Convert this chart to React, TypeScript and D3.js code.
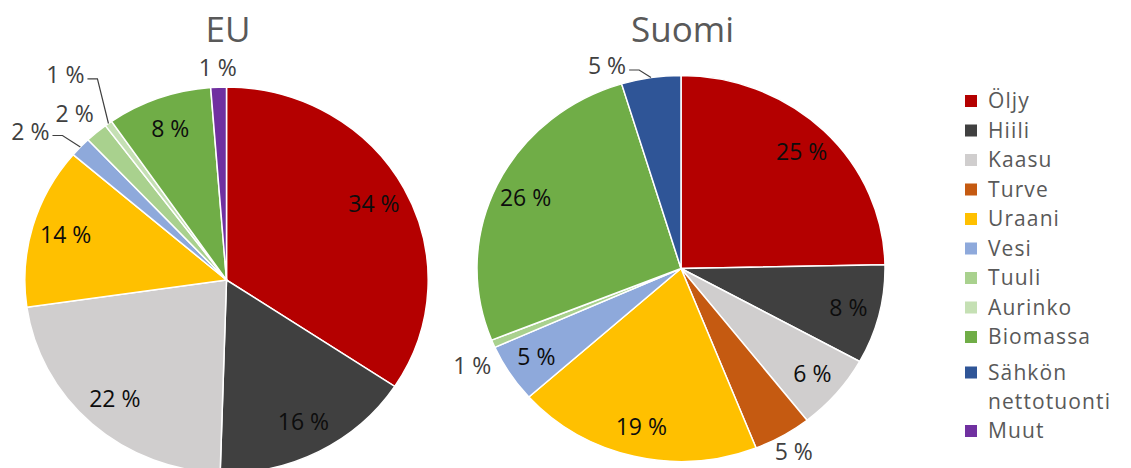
import React, { useEffect, useRef } from 'react';
import * as d3 from 'd3';

const categories = ['Öljy', 'Hiili', 'Kaasu', 'Turve', 'Uraani', 'Vesi', 'Tuuli', 'Aurinko', 'Biomassa', 'Sähkön nettotuonti', 'Muut'];
const colors = ['#B40000', '#404040', '#D0CECE', '#C55A11', '#FFC000', '#8EA9DB', '#A9D18E', '#C5E0B4', '#70AD47', '#2F5597', '#7030A0'];
const euValues = [34.3, 16.2, 22.25, 0, 13.5, 1.7, 1.8, 0.6, 8.4, 0, 1.25];
const suomiValues = [24.7, 8.3, 6.4, 4.6, 19.4, 4.9, 0.65, 0, 26.35, 4.7, 0];
const titles = ['EU', 'Suomi'];

type Outside = { r: number; da: number; leader: boolean };

const charts = [
  {
    title: titles[0], values: euValues, cx: 226.5, cy: 280, ry: 193, sx: 1.045, inner: 0.83,
    outside: { 5: { r: 1.24, da: -5.2, leader: true }, 6: { r: 1.145, da: -1, leader: false }, 7: { r: 1.33, da: -1.1, leader: true }, 10: { r: 1.1, da: 0, leader: false } } as Record<number, Outside>,
  },
  {
    title: titles[1], values: suomiValues, cx: 681, cy: 268.5, ry: 193, sx: 1.057, inner: 0.845,
    outside: { 3: { r: 1.1, da: -0.3, leader: false }, 6: { r: 1.14, da: -3.2, leader: false }, 9: { r: 1.11, da: -10.6, leader: true } } as Record<number, Outside>,
  },
];

export default function App() {
  const ref = useRef<SVGSVGElement>(null);
  useEffect(() => {
    const svg = d3.select(ref.current);
    svg.selectAll('*').remove();
    const font = '"Open Sans", "Noto Sans", sans-serif';

    charts.forEach((c) => {
      const pie = d3.pie<number>().sort(null).value((d) => d);
      const arcs = pie(c.values);
      const arc = d3.arc<d3.PieArcDatum<number>>().innerRadius(0).outerRadius(c.ry);
      const g = svg.append('g');
      g.append('text').attr('x', c.cx + 1.5).attr('y', 42).attr('text-anchor', 'middle')
        .attr('font-family', font).attr('font-size', 35).attr('fill', '#595959').text(c.title);
      const pg = g.append('g').attr('transform', `translate(${c.cx},${c.cy}) scale(${c.sx},1)`);
      pg.selectAll('path').data(arcs.filter((a) => a.value > 0)).enter().append('path')
        .attr('d', arc as any)
        .attr('fill', (d) => colors[d.index])
        .attr('stroke', '#fff').attr('stroke-width', 1.5)
        .attr('vector-effect', 'non-scaling-stroke');

      const pt = (ang: number, rr: number) => [c.cx + c.sx * rr * Math.sin(ang), c.cy - rr * Math.cos(ang)];
      arcs.forEach((a) => {
        if (a.value <= 0) return;
        const mid = (a.startAngle + a.endAngle) / 2;
        const o = c.outside[a.index];
        const label = `${Math.round(a.value)} %`;
        if (!o) {
          const [x, y] = pt(mid, c.ry * c.inner);
          g.append('text').attr('x', x).attr('y', y).attr('text-anchor', 'middle').attr('dy', '0.35em')
            .attr('font-family', font).attr('font-size', 23).attr('fill', '#0D0D0D').text(label);
        } else {
          const ang = mid + (o.da * Math.PI) / 180;
          const [x, y] = pt(ang, c.ry * o.r);
          const t = g.append('text').attr('x', x).attr('y', y).attr('text-anchor', 'middle').attr('dy', '0.35em')
            .attr('font-family', font).attr('font-size', 23).attr('fill', '#404040').text(label);
          if (o.leader) {
            const w = (t.node() as SVGTextElement).getComputedTextLength();
            const sxp = x + w / 2 + 3;
            const [ex, ey] = pt(mid, c.ry);
            g.append('polyline')
              .attr('points', `${sxp},${y + 4} ${sxp + 10},${y + 4} ${ex},${ey}`)
              .attr('fill', 'none').attr('stroke', '#404040').attr('stroke-width', 1.2);
          }
        }
      });
    });

    const lg = svg.append('g');
    categories.forEach((name, i) => {
      const y = 101 + i * 29.5 + (i >= 9 ? 6 : 0) + (i >= 10 ? 29 : 0);
      lg.append('rect').attr('x', 965).attr('y', y - 6).attr('width', 12).attr('height', 12).attr('fill', colors[i]);
      const parts = name.split(' ');
      parts.forEach((p, j) => {
        lg.append('text').attr('x', 988).attr('y', y + j * 29).attr('dy', '0.35em')
          .attr('font-family', font).attr('font-size', 21).attr('letter-spacing', 1.1)
          .attr('fill', '#595959').text(p);
      });
    });
  }, []);
  return (
    <svg ref={ref} width={1131} height={468} style={{ position: 'absolute', left: 0, top: 0, background: '#fff' }} />
  );
}
